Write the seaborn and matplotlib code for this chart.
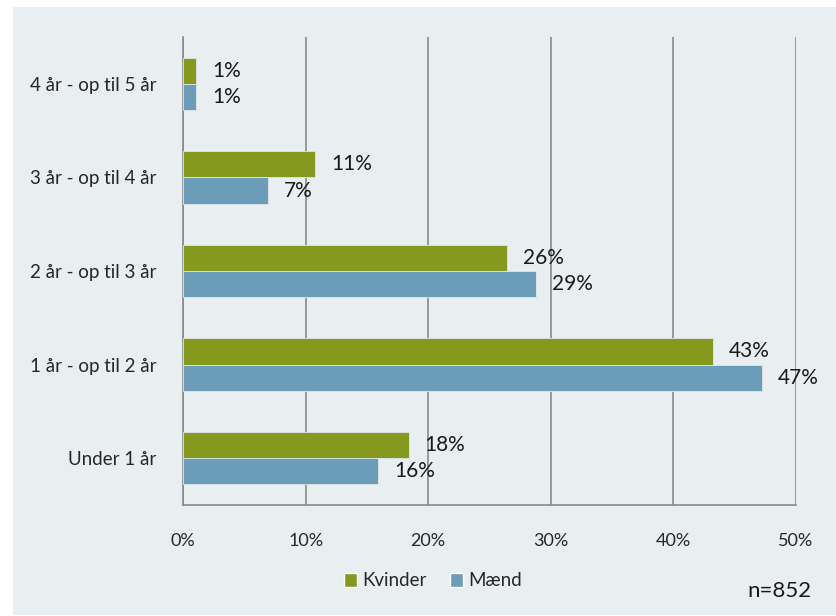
import numpy as np
import pandas as pd
import matplotlib
matplotlib.use("Agg")
import matplotlib.pyplot as plt
from matplotlib.patches import Rectangle
import seaborn as sns

# data
categories = ["4 år - op til 5 år", "3 år - op til 4 år", "2 år - op til 3 år",
              "1 år - op til 2 år", "Under 1 år"]
kvinder = [1.1, 10.8, 26.4, 43.2, 18.4]
maend = [1.1, 6.9, 28.8, 47.2, 15.9]
series = ["Kvinder", "Mænd"]
xticks = [0, 10, 20, 30, 40, 50]

df = pd.DataFrame({
    "Kategori": categories * 2,
    "Andel": kvinder + maend,
    "Køn": ["Kvinder"] * len(categories) + ["Mænd"] * len(categories),
})

bg = "#e9eef1"
green = "#86991f"
blue = "#6c9db8"
grid_col = "#8a8a8a"

sns.set_style("white")
plt.rcParams["font.family"] = ["Lato", "DejaVu Sans"]

fig = plt.figure(figsize=(8.37, 6.16), dpi=100)
fig.patch.set_facecolor("white")
fig.patches.append(Rectangle((13 / 837, 0.002), 1 - 13 / 837, 1 - 7 / 616 - 0.002,
                             transform=fig.transFigure, facecolor=bg,
                             edgecolor="none", zorder=-10))

ax = fig.add_axes([183 / 837, 1 - 505 / 616, (796 - 183) / 837, (505 - 37) / 616])
ax.set_facecolor(bg)

sns.barplot(data=df, y="Kategori", x="Andel", hue="Køn", order=categories,
            hue_order=series, palette=[green, blue], orient="h",
            width=0.56, saturation=1, ax=ax, legend=False, zorder=3,
            edgecolor="#dfe6ea", linewidth=0.6)

# value labels
for cont in ax.containers:
    for bar in cont:
        w = bar.get_width()
        ax.text(w + 1.3, bar.get_y() + bar.get_height() / 2, f"{round(w):.0f}%",
                va="center", ha="left", fontsize=15, color="#1a1a1a", zorder=4)

ax.set_xlim(0, 50)
ax.set_ylim(len(categories) - 0.5, -0.5)
ax.set_xticks(xticks)
ax.set_xticklabels([f"{t}%" for t in xticks], fontsize=13)
ax.set_xlabel("")
ax.set_ylabel("")

# y ticks between categories, labels at centres
ax.set_yticks(np.arange(len(categories)))
ax.set_yticklabels(categories, fontsize=13.5)
ax.tick_params(axis="y", length=0, pad=19)
ax.set_yticks(np.arange(-0.5, len(categories), 1), minor=True)
ax.tick_params(axis="y", which="minor", length=6, color=grid_col, width=1.2)
ax.tick_params(axis="x", length=6, color=grid_col, width=1.2, pad=14)

ax.grid(axis="x", color=grid_col, linewidth=1.2, zorder=0)
ax.set_axisbelow(True)
for s in ["top", "right"]:
    ax.spines[s].set_visible(False)
for s in ["left", "bottom"]:
    ax.spines[s].set_color(grid_col)
    ax.spines[s].set_linewidth(1.2)

handles = [Rectangle((0, 0), 1, 1, facecolor=c) for c in (green, blue)]
fig.legend(handles, series, loc="center", bbox_to_anchor=(433 / 837, 1 - 581 / 616),
           ncol=2, frameon=False, fontsize=13.5, handlelength=0.7, handleheight=0.7,
           handletextpad=0.3, columnspacing=1.2)

fig.text(812 / 837, 1 - 591 / 616, "n=852", ha="right", va="center", fontsize=16,
         color="#1a1a1a")

fig.savefig("out.png", dpi=100, facecolor=fig.get_facecolor())
